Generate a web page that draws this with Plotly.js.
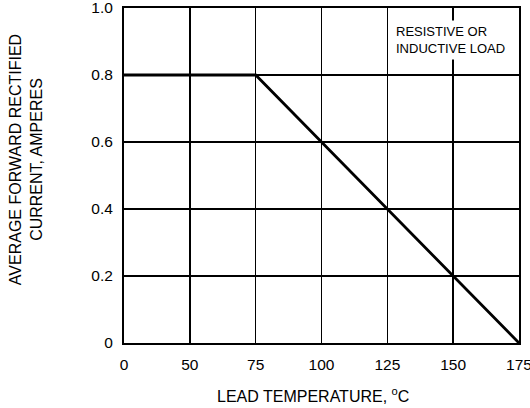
<!DOCTYPE html>
<html>
<head>
<meta charset="utf-8">
<script src="https://cdn.plot.ly/plotly-3.0.1.min.js"></script>
<style>html,body{margin:0;padding:0;background:#fff;}#chart{width:530px;height:408px;}</style>
</head>
<body>
<div id="chart"></div>
<script>
// Data
var tempLabels = ["0", "50", "75", "100", "125", "150", "175"];
var currentValues = [0.8, 0.8, 0.8, 0.6, 0.4, 0.2, 0.0];
var yTickVals = [0, 0.2, 0.4, 0.6, 0.8, 1.0];
var yTickText = ["0", "0.2", "0.4", "0.6", "0.8", "1.0"];
var xTitle = "LEAD TEMPERATURE, <sup>o</sup>C";
var yTitle = "AVERAGE FORWARD RECTIFIED<br>CURRENT, AMPERES";
var noteText = "RESISTIVE OR<br>INDUCTIVE LOAD";

var font = "Arial, 'Liberation Sans', sans-serif";

var trace = {
  x: tempLabels,
  y: currentValues,
  type: "scatter",
  mode: "lines",
  line: {color: "#000", width: 2.8},
  cliponaxis: false,
  hoverinfo: "skip"
};

var layout = {
  width: 530,
  height: 408,
  margin: {l: 124, r: 11, t: 8, b: 65},
  paper_bgcolor: "#fff",
  plot_bgcolor: "#fff",
  showlegend: false,
  font: {family: font, size: 15.5, color: "#000"},
  xaxis: {
    type: "category",
    categoryorder: "array",
    categoryarray: tempLabels,
    range: [0, tempLabels.length - 1],
    showgrid: true,
    gridcolor: "#000",
    gridwidth: 1.4,
    showline: true,
    linecolor: "#000",
    linewidth: 2,
    mirror: true,
    zeroline: false,
    ticks: "",
    ticklabelstandoff: 6,
    ticklabeloverflow: "allow",
    tickfont: {family: font, size: 15.5, color: "#000"}
  },
  yaxis: {
    range: [0, 1],
    tickvals: yTickVals,
    ticktext: yTickText,
    showgrid: true,
    gridcolor: "#000",
    gridwidth: 1.4,
    showline: true,
    linecolor: "#000",
    linewidth: 2,
    mirror: true,
    zeroline: false,
    ticks: "",
    ticklabelstandoff: 6,
    ticklabeloverflow: "allow",
    tickfont: {family: font, size: 15.5, color: "#000"}
  },
  annotations: [
    {
      xref: "paper", yref: "paper",
      x: 0.678, y: 0.965,
      xanchor: "left", yanchor: "top",
      align: "left",
      showarrow: false,
      text: noteText,
      font: {family: font, size: 13, color: "#000"},
      bgcolor: "#fff",
      borderpad: 3
    },
    {
      xref: "paper", yref: "paper",
      x: 0.478, y: -0.155,
      xanchor: "center", yanchor: "middle",
      showarrow: false,
      text: xTitle,
      font: {family: font, size: 16, color: "#000"}
    },
    {
      xref: "paper", yref: "paper",
      x: -0.248, y: 0.546,
      xanchor: "center", yanchor: "middle",
      textangle: -90,
      showarrow: false,
      text: yTitle,
      font: {family: font, size: 16, color: "#000"}
    }
  ]
};

Plotly.newPlot("chart", [trace], layout, {displayModeBar: false, staticPlot: true});
</script>
</body>
</html>
